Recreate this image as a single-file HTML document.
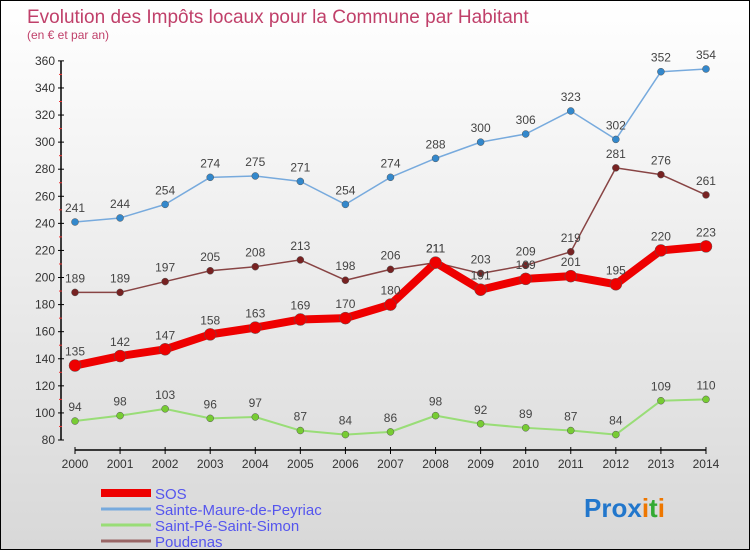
<!DOCTYPE html>
<html><head><meta charset="utf-8"><style>
body{margin:0;width:750px;height:550px;overflow:hidden;font-family:"Liberation Sans",sans-serif}
#wrap{position:relative;width:748px;height:548px;border:1px solid #000;background:linear-gradient(#fff,#d8d8d8)}
</style></head><body>
<div id="wrap">
<svg id="c" width="748" height="548"></svg>
</div>
<script>
const years=[2000,2001,2002,2003,2004,2005,2006,2007,2008,2009,2010,2011,2012,2013,2014];
const yTicks=[80,100,120,140,160,180,200,220,240,260,280,300,320,340,360];
const sos=[135,142,147,158,163,169,170,180,211,191,199,201,195,220,223];
const sainteMaure=[241,244,254,274,275,271,254,274,288,300,306,323,302,352,354];
const saintPe=[94,98,103,96,97,87,84,86,98,92,89,87,84,109,110];
const poudenas=[189,189,197,205,208,213,198,206,211,203,209,219,281,276,261];
const NS='http://www.w3.org/2000/svg';
const svg=document.getElementById('c');
const X=i=>74+i*45.07;
const Y=v=>439-(v-80)*1.354;
function mk(t,a,p){const e=document.createElementNS(NS,t);for(const k in a)e.setAttribute(k,a[k]);(p||svg).appendChild(e);return e;}
function txt(x,y,s,sz,fill,anchor){const e=mk('text',{x:x,y:y,'font-size':sz,fill:fill,'text-anchor':anchor||'middle'});e.textContent=s;return e;}
let t=txt(26,22,'Evolution des Impôts locaux pour la Commune par Habitant',19,'#c0406a','start');


t=txt(26,38,'(en € et par an)',12,'#c0406a','start');


let a=mk('line',{x1:60,y1:Y(360),x2:60,y2:Y(80),stroke:'#000','stroke-width':1.5});


yTicks.forEach(v=>{mk('line',{x1:57,y1:Y(v),x2:63,y2:Y(v),stroke:'#000'});
 if(v<360)mk('line',{x1:58,y1:Y(v+10),x2:61,y2:Y(v+10),stroke:'#e33'});
 const l=txt(54,Y(v)+4,String(v),12,'#333','end');
 
 });
a=mk('line',{x1:X(0),y1:449,x2:X(14),y2:449,stroke:'#000','stroke-width':1.5});


years.forEach((y,i)=>{mk('line',{x1:X(i),y1:446,x2:X(i),y2:453,stroke:'#000'});
 const l=txt(X(i),467,String(y),12,'#333');
 
 });
function series(vals,color,w,r,name,dot){
 const g=mk('g',{});
 
 
 mk('polyline',{points:vals.map((v,i)=>X(i)+','+Y(v)).join(' '),fill:'none',stroke:color,'stroke-width':w,'stroke-linejoin':'round'},g);
 vals.forEach((v,i)=>{const c=mk('circle',{cx:X(i),cy:Y(v),r:r,fill:dot,stroke:'#555','stroke-width':0.5},g);
  
  
  txt(X(i),Y(v)-10,String(v),12,'#444');});
}
series(saintPe,'#99dd77',2,3.5,'saint-pe-series','#77cc33');
series(sainteMaure,'#77aadd',1.5,3.5,'sainte-maure-series','#3388cc');
series(poudenas,'#884444',1.5,3.5,'poudenas-series','#772222');
series(sos,'#ee0000',8,6,'sos-series','#ee0000');
const leg=[['SOS','#ee0000',8],['Sainte-Maure-de-Peyriac','#77aadd',3],['Saint-Pé-Saint-Simon','#99dd77',3],['Poudenas','#996666',3]];
leg.forEach((l,i)=>{const g=mk('g',{});
 
 
 const y=492+i*16;
 mk('line',{x1:100,y1:y,x2:150,y2:y,stroke:l[1],'stroke-width':l[2]},g);
 const tt=txt(154,y+6,l[0],15,'#5555ee','start');g.appendChild(tt);});
const p=mk('text',{x:583,y:516,'font-size':26,'font-weight':'bold'});


[['Pro','#2277cc'],['x','#2277cc'],['i','#ee7700'],['t','#33aa33'],['i','#ee7700']].forEach(s=>{const ts=mk('tspan',{fill:s[1]},p);ts.textContent=s[0];});
</script>
</body></html>
